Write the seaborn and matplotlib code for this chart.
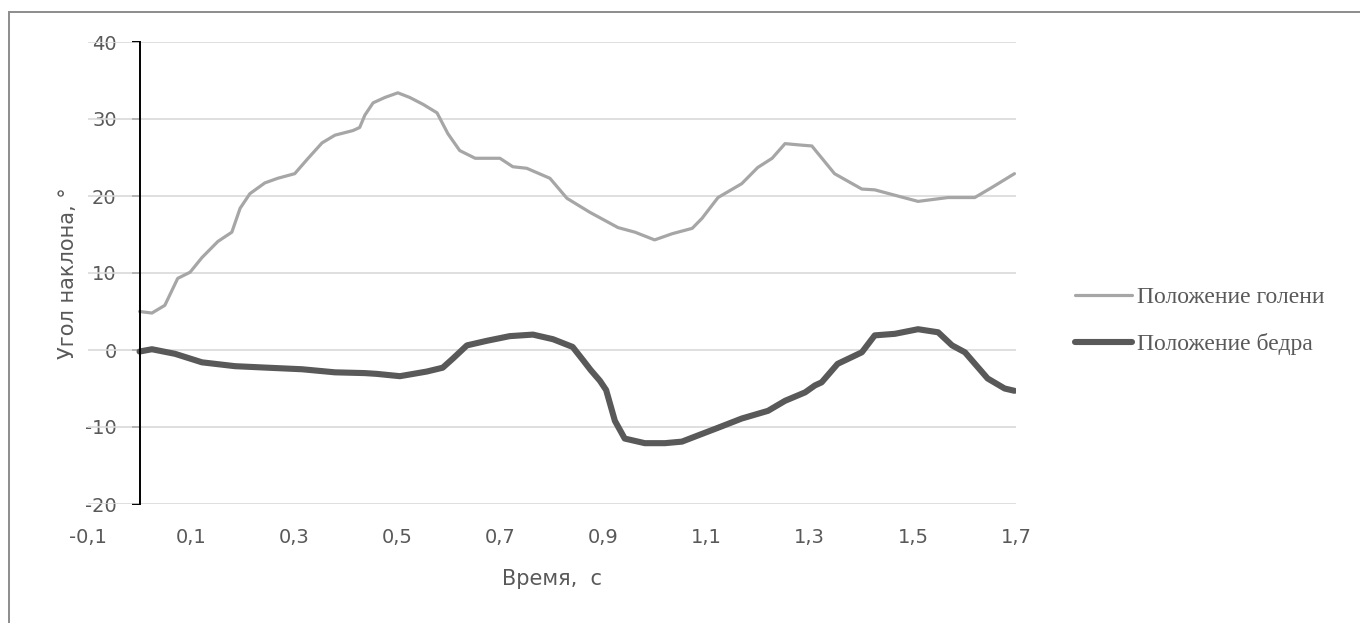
import numpy as np
import pandas as pd
import seaborn as sns
import matplotlib
matplotlib.use("Agg")
import matplotlib.pyplot as plt
from matplotlib.patches import Rectangle

# --- data -------------------------------------------------------------
shin_t = [0.000, 0.024, 0.049, 0.074, 0.098, 0.121, 0.152, 0.179, 0.195, 0.214,
          0.243, 0.268, 0.301, 0.327, 0.354, 0.379, 0.414, 0.427, 0.437, 0.453,
          0.476, 0.501, 0.524, 0.550, 0.577, 0.598, 0.621, 0.651, 0.699, 0.724,
          0.751, 0.796, 0.829, 0.873, 0.928, 0.961, 0.999, 1.033, 1.072, 1.091,
          1.122, 1.168, 1.199, 1.227, 1.252, 1.285, 1.304, 1.348, 1.401, 1.426,
          1.465, 1.510, 1.568, 1.620, 1.653, 1.697]
shin_angle = [5.0, 4.8, 5.8, 9.3, 10.1, 12.0, 14.1, 15.3, 18.4, 20.3,
              21.7, 22.3, 22.9, 24.9, 26.9, 27.9, 28.5, 28.9, 30.5, 32.1,
              32.8, 33.4, 32.8, 31.9, 30.8, 28.1, 25.9, 24.9, 24.9, 23.8,
              23.6, 22.3, 19.7, 17.9, 15.9, 15.3, 14.3, 15.1, 15.8, 17.1,
              19.8, 21.6, 23.7, 24.9, 26.8, 26.6, 26.5, 22.9, 20.9, 20.8,
              20.1, 19.3, 19.8, 19.8, 21.1, 22.9]

thigh_t = [0.000, 0.024, 0.069, 0.121, 0.185, 0.249, 0.315, 0.379, 0.437, 0.460,
           0.505, 0.557, 0.588, 0.608, 0.635, 0.674, 0.718, 0.763, 0.802, 0.840,
           0.860, 0.875, 0.893, 0.905, 0.922, 0.941, 0.980, 1.019, 1.052, 1.083,
           1.122, 1.168, 1.219, 1.252, 1.291, 1.310, 1.323, 1.354, 1.401, 1.426,
           1.465, 1.510, 1.549, 1.576, 1.601, 1.645, 1.678, 1.697]
thigh_angle = [-0.2, 0.1, -0.5, -1.6, -2.1, -2.3, -2.5, -2.9, -3.0, -3.1,
               -3.4, -2.8, -2.3, -1.1, 0.6, 1.2, 1.8, 2.0, 1.4, 0.4,
               -1.3, -2.6, -4.0, -5.2, -9.2, -11.5, -12.1, -12.1, -11.9, -11.1,
               -10.1, -8.9, -7.9, -6.6, -5.5, -4.6, -4.2, -1.8, -0.3, 1.9,
               2.1, 2.7, 2.3, 0.6, -0.3, -3.7, -5.0, -5.3]

x_ticks = [-0.1, 0.1, 0.3, 0.5, 0.7, 0.9, 1.1, 1.3, 1.5, 1.7]
x_tick_labels = ["-0,1", "0,1", "0,3", "0,5", "0,7", "0,9", "1,1", "1,3", "1,5", "1,7"]
y_ticks = [-20, -10, 0, 10, 20, 30, 40]
y_tick_labels = ["-20", "-10", "0", "10", "20", "30", "40"]

shin_name = "Положение голени"
thigh_name = "Положение бедра"

# --- style ------------------------------------------------------------
sns.set_theme(style="white")
plt.rcParams["font.family"] = ["DejaVu Sans"]

TEXT = "#595959"
GRID = "#d9d9d9"
LIGHT = "#a6a6a6"
DARK = "#595959"

fig = plt.figure(figsize=(13.6, 6.23), dpi=100)
ax = fig.add_axes([88 / 1360, 1 - 504 / 623, 928 / 1360, 462 / 623])

shin_df = pd.DataFrame({"t": shin_t, "angle": shin_angle})
thigh_df = pd.DataFrame({"t": thigh_t, "angle": thigh_angle})

sns.lineplot(data=shin_df, x="t", y="angle", ax=ax, color=LIGHT, lw=2.3,
             label=shin_name, solid_joinstyle="round", solid_capstyle="round",
             zorder=3)
sns.lineplot(data=thigh_df, x="t", y="angle", ax=ax, color=DARK, lw=4.4,
             label=thigh_name, solid_joinstyle="round", solid_capstyle="round",
             zorder=4)

ax.set_xlim(-0.1, 1.7)
ax.set_ylim(-20, 40)

# horizontal gridlines across the full width
ax.grid(False)
for yv in y_ticks:
    ax.axhline(yv, color=GRID, lw=1.2, zorder=1)

# axis spines: only the vertical axis at t = 0
for side in ("top", "right", "bottom"):
    ax.spines[side].set_visible(False)
ax.spines["left"].set_position(("data", 0))
ax.spines["left"].set_color("black")
ax.spines["left"].set_linewidth(1.4)
ax.spines["left"].set_zorder(5)

ax.set_yticks(y_ticks)
ax.set_yticklabels(y_tick_labels)
ax.set_xticks(x_ticks)
ax.set_xticklabels(x_tick_labels)
ax.tick_params(axis="y", which="major", left=True, length=6, width=1.4,
               color="black", direction="out", pad=10.5, labelsize=14,
               labelcolor=TEXT)
ax.tick_params(axis="x", which="major", bottom=False, length=0, pad=17,
               labelsize=14, labelcolor=TEXT)

ax.set_xlabel("Время,  с", fontsize=15, color=TEXT)
ax.xaxis.set_label_coords(0.5, -0.14)
ax.set_ylabel("Угол наклона, °", fontsize=15, color=TEXT)
ax.yaxis.set_label_coords(-0.011, 0.5)

ax.legend(loc="center left", bbox_to_anchor=(1075 / 1360, 1 - 321 / 623),
          bbox_transform=fig.transFigure, frameon=False, borderpad=0,
          borderaxespad=0, handlelength=2.4, handletextpad=0.21,
          labelspacing=1.07,
          prop={"family": "Liberation Serif", "size": 17},
          labelcolor=TEXT)

# chart-area frame
fig.patches.append(Rectangle((9 / 1360, -0.2), 1.2, 0.2 + (623 - 12) / 623,
                             transform=fig.transFigure, fill=False,
                             edgecolor="#8c8c8c", lw=1.4, zorder=0))

fig.savefig("out.png", dpi=100, facecolor="white")
